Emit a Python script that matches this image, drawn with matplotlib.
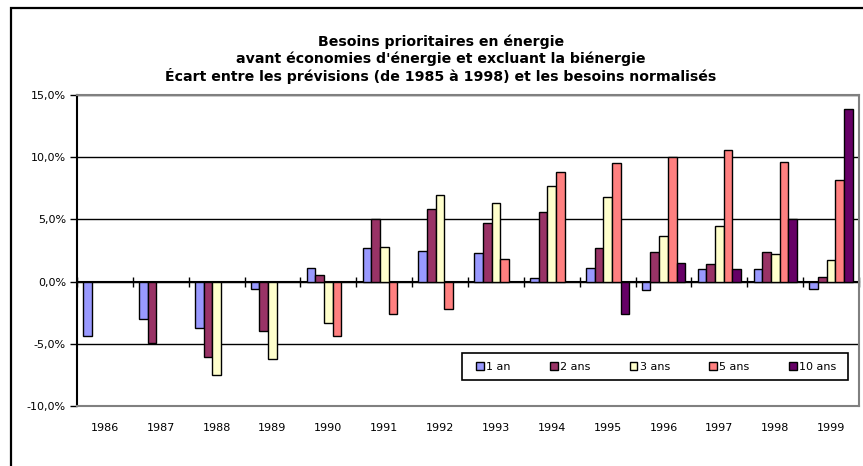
"""Écart entre les prévisions et les besoins normalisés (bar chart)."""
import matplotlib

matplotlib.use("Agg")
import matplotlib.pyplot as plt
import numpy as np
from matplotlib.patches import Rectangle
from matplotlib.ticker import FuncFormatter, MultipleLocator

years = ["1986", "1987", "1988", "1989", "1990", "1991", "1992",
         "1993", "1994", "1995", "1996", "1997", "1998", "1999"]
nan = np.nan
an1 = [-4.4, -3.0, -3.7, -0.6, 1.1, 2.7, 2.5, 2.3, 0.3, 1.1, -0.7, 1.0, 1.0, -0.6]
ans2 = [nan, -4.9, -6.1, -4.0, 0.5, 5.0, 5.8, 4.7, 5.6, 2.7, 2.4, 1.4, 2.4, 0.4]
ans3 = [nan, nan, -7.5, -6.2, -3.3, 2.8, 7.0, 6.3, 7.7, 6.8, 3.7, 4.5, 2.2, 1.7]
ans5 = [nan, nan, nan, nan, -4.4, -2.6, -2.2, 1.8, 8.8, 9.5, 10.0, 10.6, 9.6, 8.2]
ans10 = [nan, nan, nan, nan, nan, nan, nan, nan, nan, -2.6, 1.5, 1.0, 5.0, 13.9]
series_names = ["1 an", "2 ans", "3 ans", "5 ans", "10 ans"]
colors = ["#9999FF", "#993366", "#FFFFCC", "#FF8080", "#660066"]

title_lines = ["Besoins prioritaires en énergie",
               "avant économies d'énergie et excluant la biénergie",
               "Écart entre les prévisions (de 1985 à 1998) et les besoins normalisés"]

plt.rcParams["font.family"] = ["DejaVu Sans"]

W, H = 863, 466
fig = plt.figure(figsize=(W / 100, H / 100), dpi=100)
ax = fig.add_axes([77 / W, 60 / H, (859 - 77) / W, (406 - 95) / H])

x = np.arange(len(years))
bw = 1 / (5 + 1.44)
for i, (vals, name, col) in enumerate(zip([an1, ans2, ans3, ans5, ans10],
                                           series_names, colors)):
    ax.bar(x + (i - 2) * bw, vals, bw, color=col, edgecolor="black",
           linewidth=1, label=name, zorder=3)

ax.set_xlim(-0.5, len(years) - 0.5)
ax.set_ylim(-10, 15)
ax.yaxis.set_major_locator(MultipleLocator(5))
ax.yaxis.set_major_formatter(
    FuncFormatter(lambda v, _: f"{v:.1f}%".replace(".", ",")))
ax.yaxis.grid(True, color="black", linewidth=1)
ax.set_axisbelow(True)
ax.tick_params(axis="y", direction="out", length=5, width=1, labelsize=8,
               pad=3, color="black")

ax.set_xticks(x)
ax.set_xticklabels(years)
ax.tick_params(axis="x", length=0, labelsize=8, pad=12)

for side in ("top", "right", "bottom"):
    ax.spines[side].set_color("#808080")
    ax.spines[side].set_linewidth(1.5)
ax.spines["left"].set_color("black")
ax.spines["left"].set_linewidth(1.5)

# category axis crossing at 0 with ticks between categories
zero = ax.secondary_xaxis(0, transform=ax.transData)
zero.set_xticks(np.arange(len(years) + 1) - 0.5)
zero.tick_params(axis="x", direction="inout", length=7, width=1,
                 labelbottom=False)
zero.spines["bottom"].set_linewidth(1.5)
zero.spines["bottom"].set_color("black")

for k, line in enumerate(title_lines):
    fig.text(441 / W, 1 - (42 + 17 * k) / H, line, ha="center", va="center",
             fontsize=10.2, fontweight="bold")

# legend entries spread over the inner part of the box; box drawn separately
leg = fig.legend(loc="center left", ncol=5, mode="expand",
                 bbox_to_anchor=(476 / W, 1 - 380 / H, (836 - 476) / W, 27 / H),
                 borderaxespad=0, borderpad=0, fontsize=8, frameon=False,
                 handlelength=0.7, handleheight=0.7, handletextpad=0.2)
fig.patches.append(Rectangle((462 / W, 1 - 380 / H), (848 - 462) / W, 27 / H,
                             transform=fig.transFigure, facecolor="white",
                             edgecolor="black", linewidth=1.2, zorder=4))
leg.set_zorder(5)

# outer chart frame (extends past the right and bottom edges)
fig.patches.append(Rectangle((10.5 / W, -0.1), 1.2, 1.1 - 8 / H,
                             transform=fig.transFigure, fill=False,
                             edgecolor="black", linewidth=1.6))

fig.savefig("out.png", dpi=100)
